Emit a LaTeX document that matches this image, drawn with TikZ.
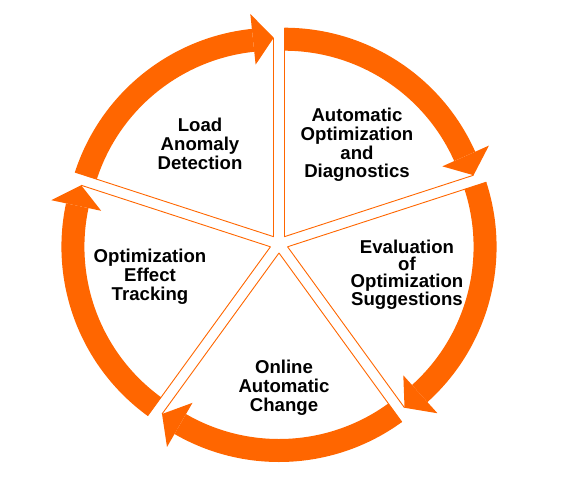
\documentclass[tikz,border=0pt]{standalone}
\usepackage{fontspec}
\setmainfont{Liberation Sans}
\usepackage{xcolor}
\usetikzlibrary{positioning}
\definecolor{corange}{HTML}{FF6600}
\definecolor{ctext}{HTML}{000000}

\begin{document}
\begin{tikzpicture}[
  x=1pt, y=1pt,
  font=\fontsize{18.6}{18.8}\selectfont\bfseries,
  band/.style={fill=corange},
  edge/.style={draw=corange, line width=0.9pt},
  label/.style={align=center, text=ctext, inner sep=0pt},
  ]
\useasboundingbox (-279,-243) rectangle (282,244);
\coordinate (c) at (0,0);

% Load Anomaly Detection (162 -> 90)
\begin{scope}[shift={(126:9)}]
  \coordinate (v1) at (0,0);
  \fill[band] (162:209) arc (162:96:209) -- (96:186) arc (96:162:186) -- cycle;
  \fill[band] (96:224) -- (90:199) -- (96:173) -- cycle;
  \draw[edge] (v1) -- (162:209);
  \draw[edge] (v1) -- (90:199);
\end{scope}

% Automatic Optimization and Diagnostics (90 -> 18)
\begin{scope}[shift={(54:9)}]
  \coordinate (v2) at (0,0);
  \fill[band] (90:209) arc (90:24:209) -- (24:186) arc (24:90:186) -- cycle;
  \fill[band] (24:224) -- (18:199) -- (24:173) -- cycle;
  \draw[edge] (v2) -- (90:209);
  \draw[edge] (v2) -- (18:199);
\end{scope}

% Evaluation of Optimization Suggestions (18 -> -54)
\begin{scope}[shift={(-18:9)}]
  \coordinate (v3) at (0,0);
  \fill[band] (18:209) arc (18:-48:209) -- (-48:186) arc (-48:18:186) -- cycle;
  \fill[band] (-48:224) -- (-54:199) -- (-48:173) -- cycle;
  \draw[edge] (v3) -- (18:209);
  \draw[edge] (v3) -- (-54:199);
\end{scope}

% Online Automatic Change (-54 -> -126)
\begin{scope}[shift={(-90:9)}]
  \coordinate (v4) at (0,0);
  \fill[band] (-54:209) arc (-54:-120:209) -- (-120:186) arc (-120:-54:186) -- cycle;
  \fill[band] (-120:224) -- (-126:199) -- (-120:173) -- cycle;
  \draw[edge] (v4) -- (-54:209);
  \draw[edge] (v4) -- (-126:199);
\end{scope}

% Optimization Effect Tracking (-126 -> -198)
\begin{scope}[shift={(-162:9)}]
  \coordinate (v5) at (0,0);
  \fill[band] (-126:209) arc (-126:-192:209) -- (-192:186) arc (-192:-126:186) -- cycle;
  \fill[band] (-192:224) -- (-198:199) -- (-192:173) -- cycle;
  \draw[edge] (v5) -- (-126:209);
  \draw[edge] (v5) -- (-198:199);
\end{scope}

\node[label] (load)   at (-79,100)  {Load\\Anomaly\\Detection};
\node[label] (diag)   at (78,99)    {Automatic\\Optimization\\and\\Diagnostics};
\node[label, font=\fontsize{18.6}{17}\selectfont\bfseries] (eval) at (128,-31) {Evaluation\\of\\Optimization\\Suggestions};
\node[label] (change) at (5,-144)   {Online\\Automatic\\Change};
\node[label] (track)  at (-129,-33) {Optimization\\Effect\\Tracking};
\end{tikzpicture}
\end{document}
